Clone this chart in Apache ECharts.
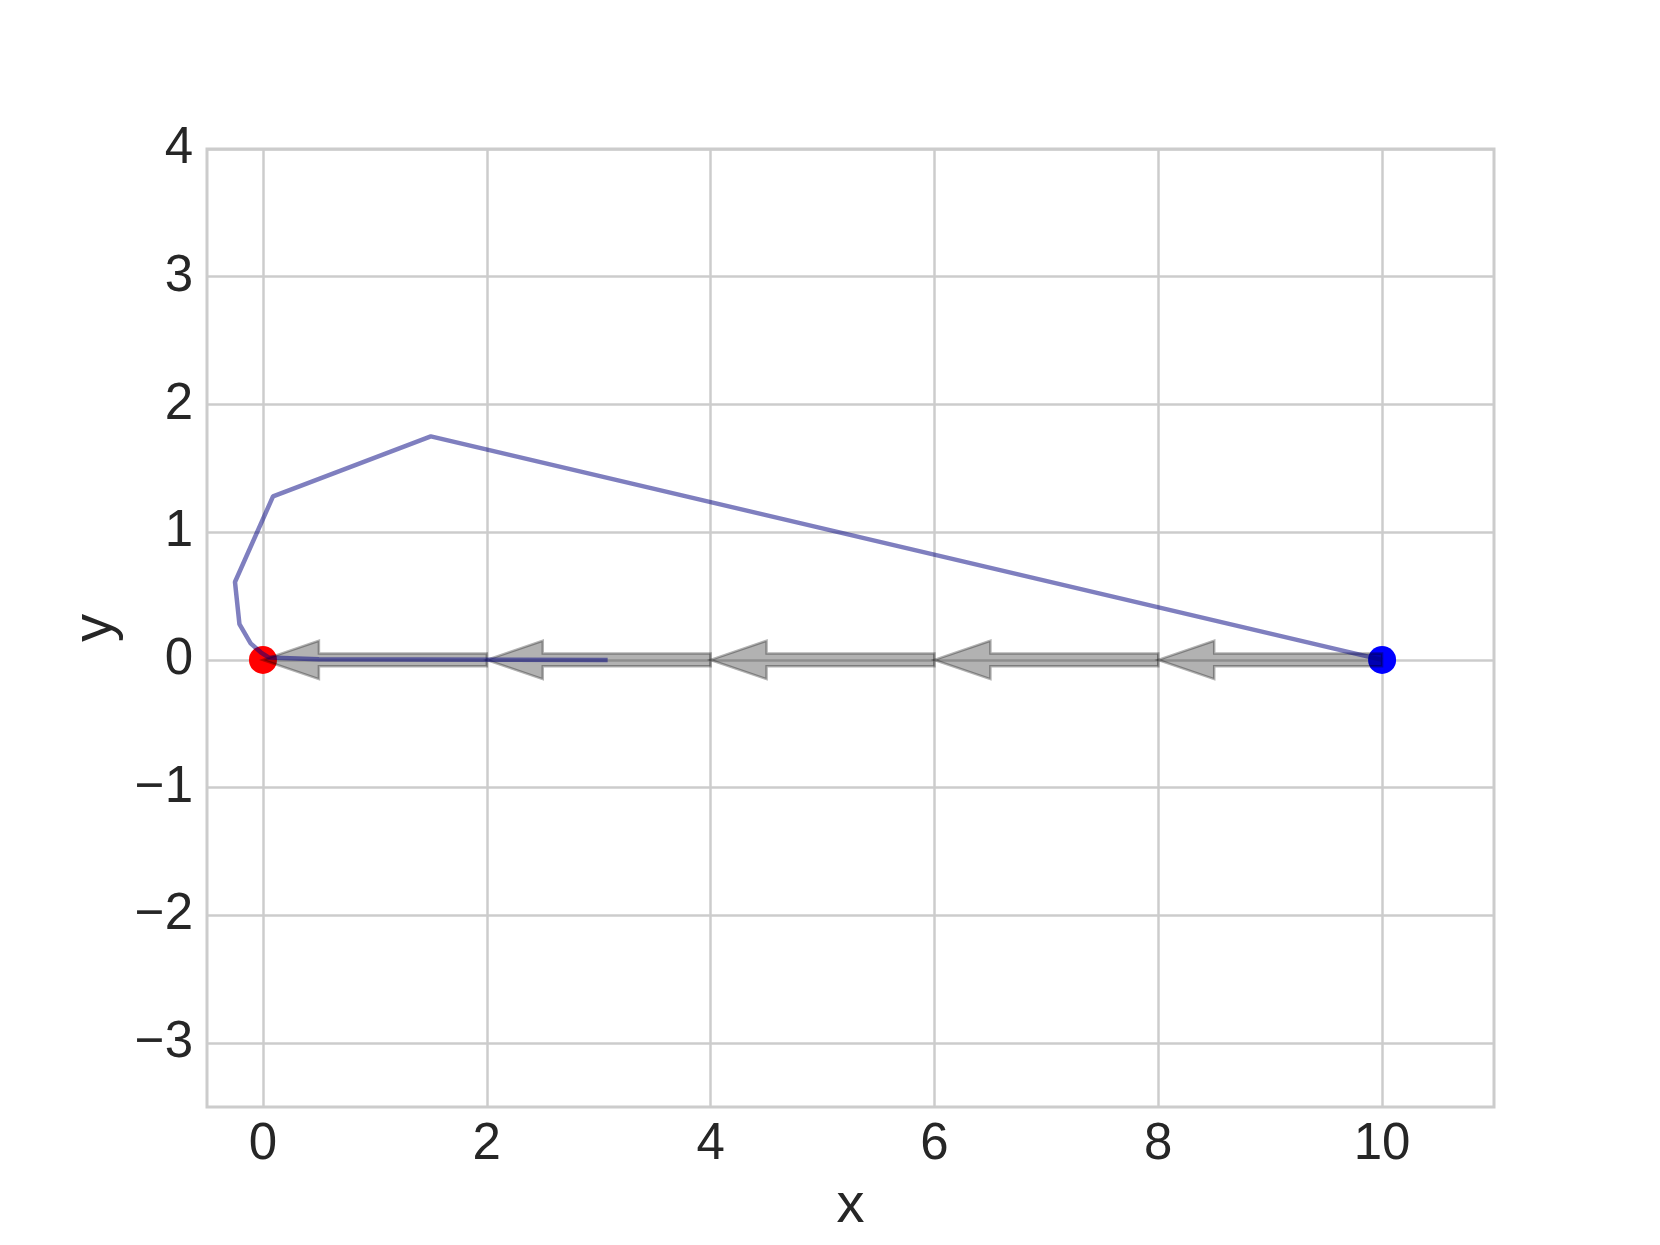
<!DOCTYPE html>
<html>
<head>
<meta charset="utf-8">
<script src="https://cdn.jsdelivr.net/npm/echarts@6/dist/echarts.min.js"></script>
<style>
html,body{margin:0;padding:0;background:#fff;}
#chart{width:1660px;height:1245px;}
</style>
</head>
<body>
<div id="chart"></div>
<script>
// ---- data ----
const xTicks = [0, 2, 4, 6, 8, 10];
const yTicks = [-3, -2, -1, 0, 1, 2, 3, 4];
// trajectory (x, y)
const pathX = [10, 1.5, 0.09, -0.25, -0.21, -0.11, -0.02, 0.05, 0.5, 3.08];
const pathY = [0, 1.75, 1.28, 0.61, 0.28, 0.13, 0.06, 0.02, 0.005, 0];
// arrows
const arrowStartX = [10, 8, 6, 4, 2];
const arrowEndX = [8, 6, 4, 2, 0];
const arrowY = [0, 0, 0, 0, 0];
// start / end markers
const startPoint = [10, 0];
const endPoint = [0, 0];

const pathData = pathX.map((x, i) => [x, pathY[i]]);
const arrowData = arrowStartX.map((s, i) => [s, arrowY[i], arrowEndX[i], arrowY[i]]);

const fmt = v => String(v).replace('-', '\u2212');
const FONT = '"Liberation Sans", Arial, sans-serif';
const TXT = '#262626';
const GRID = '#cccccc';

const chart = echarts.init(document.getElementById('chart'), null, {renderer: 'canvas'});
chart.setOption({
  animation: false,
  backgroundColor: '#fff',
  grid: {left: 207, right: 166, top: 149, bottom: 138, show: true, borderColor: GRID, borderWidth: 3, containLabel: false},
  xAxis: {
    type: 'value', min: -0.5, max: 11,
    name: 'x', nameLocation: 'middle', nameGap: 72,
    nameTextStyle: {fontFamily: FONT, fontSize: 56, color: TXT},
    axisLine: {show: false},
    axisTick: {show: false, customValues: xTicks},
    axisLabel: {customValues: xTicks, formatter: fmt, fontFamily: FONT, fontSize: 51, color: TXT, margin: 12},
    splitLine: {show: true, lineStyle: {color: GRID, width: 2.5}}
  },
  yAxis: {
    type: 'value', min: -3.5, max: 4,
    name: 'y', nameLocation: 'middle', nameGap: 82,
    nameTextStyle: {fontFamily: FONT, fontSize: 56, color: TXT},
    axisLine: {show: false},
    axisTick: {show: false, customValues: yTicks},
    axisLabel: {customValues: yTicks, formatter: fmt, fontFamily: FONT, fontSize: 51, color: TXT, margin: 14, padding: [6, 0, 0, 0]},
    splitLine: {show: true, lineStyle: {color: GRID, width: 2.5}}
  },
  series: [
    {
      type: 'scatter', z: 2, symbolSize: 28,
      data: [startPoint], itemStyle: {color: '#0000ff', opacity: 1}
    },
    {
      type: 'scatter', z: 2, symbolSize: 28,
      data: [endPoint], itemStyle: {color: '#ff0000', opacity: 1}
    },
    {
      type: 'custom', z: 3,
      data: arrowData,
      renderItem: function (params, api) {
        const xs = api.value(0), ys = api.value(1), xe = api.value(2), ye = api.value(3);
        const dir = xe < xs ? 1 : -1;
        const hl = 0.5, hw = 0.15, sw = 0.05;
        const xb = xe + dir * hl;
        const pts = [
          [xe, ye], [xb, ye + hw], [xb, ye + sw], [xs, ys + sw],
          [xs, ys - sw], [xb, ye - sw], [xb, ye - hw]
        ].map(p => api.coord(p));
        return {
          type: 'polygon',
          shape: {points: pts},
          style: {fill: 'rgba(0,0,0,0.3)', stroke: 'rgba(0,0,0,0.3)', lineWidth: 2.5}
        };
      }
    },
    {
      type: 'line', z: 4,
      data: pathData, showSymbol: false, symbol: 'none',
      lineStyle: {color: 'rgba(0,0,128,0.5)', width: 4.5},
      emphasis: {disabled: true}
    }
  ]
});
</script>
</body>
</html>
